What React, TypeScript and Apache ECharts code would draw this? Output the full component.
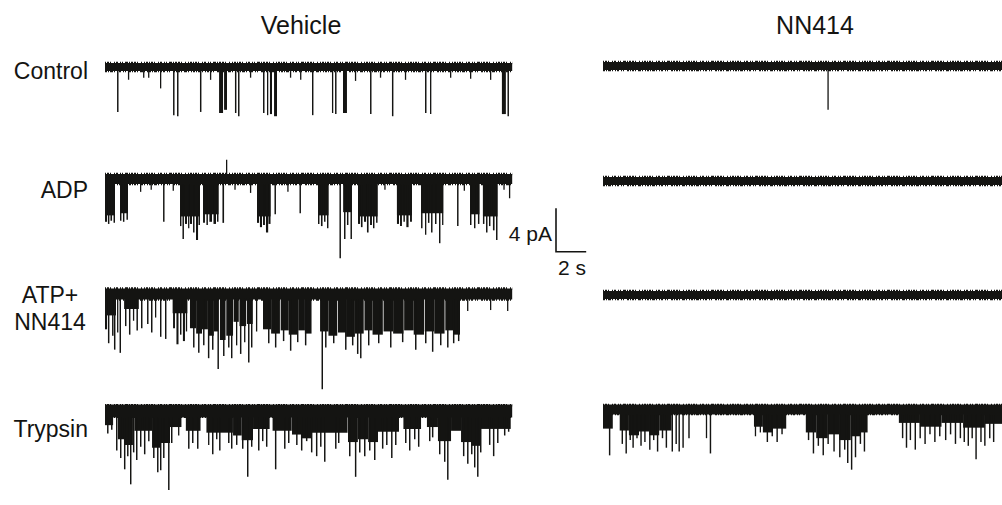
import React, { useEffect, useRef } from 'react';
import * as echarts from 'echarts';

// ---------------- DATA ----------------
const columnTitles = ['Vehicle', 'NN414'];
const rowLabels = ['Control', 'ADP', 'ATP+\nNN414', 'Trypsin'];
const traceDuration = 27.7; // seconds shown per trace
const scaleBarCurrent = 4; // pA
const scaleBarTime = 2; // s
const scaleLabels = ['4 pA', '2 s'];

// Channel openings: [start (s), end (s), amplitude (pA, downward)]
const vehicleControl: number[][] = [
  [0.82, 0.92, 4.2], [1.56, 1.63, 1.2], [2.59, 2.66, 1.0], [2.93, 3.0, 1.0], [3.74, 3.82, 2.0],
  [4.63, 4.73, 4.5], [4.9, 5.0, 4.6], [6.46, 6.56, 4.2], [7.14, 7.2, 1.2], [7.76, 8.03, 4.3],
  [8.1, 8.3, 4.0], [8.84, 8.94, 4.3], [9.05, 9.15, 4.6], [9.86, 9.93, 1.0], [10.75, 10.85, 4.3],
  [11.02, 11.1, 4.5], [11.22, 11.36, 4.4], [11.5, 11.7, 4.6], [12.58, 12.65, 1.0], [13.27, 13.33, 1.2],
  [14.08, 14.18, 4.5], [15.44, 15.52, 4.3], [15.65, 15.75, 4.4], [16.19, 16.46, 4.3], [17.0, 17.07, 1.3],
  [18.03, 18.13, 4.4], [18.7, 18.78, 1.0], [19.52, 19.62, 4.6], [20.4, 20.48, 1.2], [21.77, 21.87, 4.3],
  [22.11, 22.2, 4.4], [23.47, 23.54, 1.0], [24.83, 24.9, 1.1], [26.19, 26.26, 1.2], [27.0, 27.27, 4.4],
  [27.38, 27.48, 4.6],
];

const vehicleADP: number[][] = [
  // dense bursts
  [0.0, 0.68, 3.4], [1.02, 1.56, 3.2], [5.1, 6.46, 3.5], [6.67, 7.72, 3.3], [10.34, 11.26, 3.5],
  [14.49, 15.2, 3.4], [16.2, 16.8, 3.1], [17.21, 18.54, 3.5], [19.86, 20.88, 3.4], [21.5, 23.0, 3.2],
  [24.83, 25.47, 3.3], [25.71, 26.7, 3.5],
  // individual openings
  [0.0, 0.14, 4.0], [0.2, 0.3, 4.2], [0.37, 0.48, 3.9], [0.58, 0.68, 4.1], [1.02, 1.12, 3.9],
  [1.22, 1.32, 4.0], [1.46, 1.56, 3.8], [2.38, 2.45, 1.2], [3.95, 4.05, 4.0], [5.1, 5.2, 4.4],
  [5.27, 5.37, 5.6], [5.44, 5.58, 4.2], [5.65, 5.72, 4.6], [5.78, 5.92, 4.2], [5.99, 6.09, 5.0],
  [6.19, 6.33, 5.7], [6.36, 6.46, 4.3], [6.67, 6.8, 4.1], [6.9, 7.0, 4.3], [7.1, 7.28, 4.0],
  [7.38, 7.55, 4.2], [7.62, 7.72, 4.0], [7.99, 8.1, 4.1], [8.23, 8.3, -1.8], [9.86, 9.93, 1.3],
  [10.34, 10.48, 4.1], [10.54, 10.68, 4.5], [10.75, 10.88, 4.3], [10.95, 11.1, 5.0], [11.12, 11.26, 4.2],
  [11.53, 11.63, 3.3], [13.23, 13.33, 3.2], [14.49, 14.59, 4.2], [14.69, 14.8, 4.4], [14.9, 15.0, 4.0],
  [15.1, 15.2, 4.6], [15.95, 16.05, 7.4], [16.26, 16.36, 5.6], [16.46, 16.56, 4.3], [16.7, 16.8, 5.6],
  [17.21, 17.35, 4.2], [17.41, 17.52, 4.5], [17.62, 17.76, 4.0], [17.82, 17.93, 5.0], [18.03, 18.16, 4.3],
  [18.23, 18.33, 4.6], [18.44, 18.54, 4.1], [19.86, 20.0, 4.2], [20.07, 20.2, 4.4], [20.3, 20.4, 4.0],
  [20.5, 20.65, 4.5], [20.75, 20.88, 4.0], [21.5, 21.6, 4.6], [21.77, 21.84, 5.2], [21.97, 22.07, 4.1],
  [22.18, 22.28, 5.0], [22.45, 22.55, 4.2], [22.72, 22.82, 6.0], [22.93, 23.0, 4.3], [23.95, 24.05, 4.4],
  [24.83, 24.93, 4.3], [25.1, 25.2, 4.6], [25.37, 25.47, 4.2], [25.71, 25.81, 4.2], [25.92, 26.02, 5.0],
  [26.12, 26.22, 4.4], [26.39, 26.5, 4.8], [26.6, 26.7, 5.7], [27.48, 27.55, 1.8],
  [3.1, 3.16, 1.0], [4.6, 4.66, 1.1], [8.8, 8.86, 1.0], [12.4, 12.46, 1.2], [19.0, 19.06, 1.0],
  [24.4, 24.46, 1.1], [27.1, 27.16, 1.0],
];

const vehicleATP: number[][] = [
  // dense bursts
  [5.78, 6.2, 3.2], [6.2, 6.6, 3.7], [6.6, 7.0, 3.3], [7.05, 7.4, 3.9], [7.4, 7.69, 3.5],
  [7.82, 8.2, 4.3], [8.25, 8.71, 3.9], [8.75, 9.1, 2.6], [9.15, 9.6, 3.0], [9.65, 10.05, 2.8],
  [10.75, 11.3, 3.3], [11.3, 11.9, 3.7], [11.95, 12.5, 3.4], [12.5, 13.1, 3.8], [13.15, 13.6, 3.4],
  [13.6, 14.05, 3.7], [14.63, 15.2, 3.5], [15.2, 15.8, 3.9], [15.85, 16.4, 3.6], [16.4, 17.0, 4.0],
  [17.0, 17.6, 3.7], [17.65, 18.2, 3.4], [18.2, 18.9, 3.8], [18.95, 19.6, 3.5], [19.6, 20.3, 3.7],
  [20.35, 21.0, 3.4], [21.0, 21.7, 3.8], [21.75, 22.4, 3.5], [22.4, 23.1, 3.7], [23.15, 23.7, 3.4],
  [23.7, 24.15, 3.8], [0.0, 0.75, 2.0], [1.3, 2.3, 1.4], [4.6, 5.6, 1.8],
  // individual openings
  [0.0, 0.14, 3.3], [0.2, 0.3, 4.6], [0.48, 0.58, 3.9], [0.61, 0.71, 5.2], [0.82, 0.88, 3.6],
  [0.99, 1.09, 5.5], [1.36, 1.46, 3.0], [1.63, 1.73, 3.8], [1.9, 1.97, 2.5], [2.14, 2.24, 3.4],
  [2.45, 2.55, 3.2], [2.86, 2.96, 2.8], [3.13, 3.23, 3.6], [3.4, 3.47, 2.2], [3.74, 3.84, 4.0],
  [4.08, 4.18, 4.2], [4.63, 4.76, 3.2], [4.86, 5.0, 4.7], [5.1, 5.2, 3.8], [5.3, 5.44, 4.4],
  [5.5, 5.58, 3.5], [5.99, 6.09, 5.0], [6.33, 6.43, 5.5], [6.67, 6.77, 4.8], [7.0, 7.1, 6.0],
  [7.28, 7.38, 5.2], [7.65, 7.75, 7.0], [8.03, 8.13, 5.8], [8.37, 8.47, 5.0], [8.57, 8.67, 6.0],
  [8.91, 9.0, 4.8], [9.18, 9.28, 5.6], [9.46, 9.55, 4.5], [9.73, 9.83, 6.4], [9.93, 10.03, 5.0],
  [10.27, 10.34, 3.5], [11.09, 11.19, 4.6], [11.56, 11.66, 5.0], [12.1, 12.2, 4.4], [12.58, 12.68, 5.3],
  [13.06, 13.16, 4.5], [13.6, 13.7, 4.8], [14.73, 14.83, 8.9], [14.97, 15.07, 5.0], [15.51, 15.61, 4.6],
  [16.33, 16.43, 5.2], [16.8, 16.9, 4.8], [17.14, 17.24, 5.6], [17.35, 17.45, 6.0], [17.89, 17.99, 4.8],
  [18.57, 18.67, 4.6], [19.39, 19.49, 5.0], [20.2, 20.3, 4.5], [21.09, 21.19, 5.2], [21.77, 21.87, 4.6],
  [22.24, 22.34, 5.4], [22.79, 22.89, 4.8], [23.27, 23.37, 5.0], [23.67, 23.77, 4.6], [24.01, 24.11, 4.4],
  [24.63, 24.7, 1.6], [26.19, 26.26, 1.5], [27.35, 27.42, 1.6],
];

const vehicleTrypsin: number[][] = [
  // dense bursts
  [0.0, 0.55, 1.5], [0.88, 1.3, 3.0], [1.3, 1.9, 3.6], [3.2, 3.8, 3.9], [3.8, 4.42, 3.4],
  [8.71, 9.3, 2.6], [9.3, 10.07, 3.1], [12.72, 13.4, 2.5], [13.4, 14.08, 2.9], [16.53, 17.2, 3.3],
  [17.2, 17.9, 3.0], [17.9, 18.57, 3.3], [22.65, 23.54, 3.2], [24.22, 24.9, 3.3], [24.9, 25.58, 3.7],
  [2.0, 3.2, 2.1], [4.42, 5.2, 1.7], [5.5, 6.5, 2.1], [6.9, 8.7, 2.3], [10.07, 11.2, 1.9],
  [11.4, 12.7, 2.1], [14.08, 16.5, 2.3], [18.57, 20.0, 2.2], [20.3, 21.5, 1.9], [21.9, 22.65, 1.7],
  [23.54, 24.22, 2.1], [25.58, 27.6, 1.9],
  // individual openings
  [0.14, 0.24, 2.4], [0.41, 0.51, 2.0], [0.75, 0.85, 4.2], [1.02, 1.12, 5.0], [1.29, 1.39, 6.2],
  [1.5, 1.6, 4.8], [1.7, 1.8, 7.8], [1.9, 2.0, 4.4], [2.11, 2.21, 5.2], [2.38, 2.48, 3.8],
  [2.65, 2.75, 4.6], [2.93, 3.03, 3.2], [3.27, 3.37, 5.0], [3.54, 3.64, 6.5], [3.74, 3.84, 6.3],
  [3.95, 4.05, 5.0], [4.29, 4.39, 8.4], [4.49, 4.59, 3.4], [4.97, 5.05, 2.6], [5.65, 5.75, 4.0],
  [5.92, 6.02, 3.4], [6.26, 6.36, 4.0], [7.01, 7.1, 3.6], [7.28, 7.38, 4.6], [7.55, 7.65, 3.0],
  [7.76, 7.86, 4.2], [8.37, 8.47, 3.4], [8.57, 8.67, 4.0], [8.91, 9.01, 3.6], [9.32, 9.42, 4.0],
  [9.66, 9.76, 7.0], [9.93, 10.03, 3.8], [10.41, 10.51, 4.2], [10.68, 10.78, 3.2], [10.95, 11.05, 3.8],
  [11.56, 11.66, 6.2], [12.18, 12.28, 4.0], [12.45, 12.55, 3.4], [13.0, 13.1, 3.6], [13.33, 13.43, 4.2],
  [13.67, 13.77, 3.2], [14.01, 14.11, 4.4], [14.35, 14.45, 4.8], [14.63, 14.73, 3.8], [14.9, 15.0, 5.4],
  [15.65, 15.75, 4.0], [15.85, 15.95, 3.4], [16.6, 16.7, 4.8], [17.0, 17.1, 7.0], [17.28, 17.38, 4.4],
  [17.62, 17.72, 4.8], [17.96, 18.06, 4.2], [18.3, 18.4, 5.2], [18.84, 18.94, 4.0], [19.12, 19.22, 3.6],
  [19.46, 19.56, 5.0], [19.73, 19.83, 3.6], [20.41, 20.51, 3.4], [20.68, 20.78, 4.2], [21.02, 21.12, 3.0],
  [21.29, 21.39, 3.8], [22.04, 22.14, 3.2], [22.24, 22.34, 2.8], [22.72, 22.82, 4.6], [23.06, 23.16, 5.4],
  [23.27, 23.37, 7.3], [24.35, 24.45, 4.8], [24.63, 24.73, 5.6], [24.9, 25.0, 4.6], [25.1, 25.2, 6.0],
  [25.31, 25.41, 7.0], [25.51, 25.61, 4.4], [26.12, 26.22, 3.6], [26.39, 26.49, 4.8], [26.67, 26.77, 3.4],
  [27.14, 27.24, 2.6], [27.41, 27.51, 2.2],
];

const nn414Control: number[][] = [[15.58, 15.66, 4.1]];
const nn414ADP: number[][] = [];
const nn414ATP: number[][] = [];
const nn414Trypsin: number[][] = [
  // dense bursts
  [0.0, 0.68, 2.0], [1.16, 1.8, 2.2], [1.8, 2.5, 2.7], [2.5, 3.2, 2.3], [3.2, 3.9, 2.7],
  [3.9, 4.76, 2.2], [10.48, 11.1, 1.8], [11.1, 11.8, 2.4], [11.8, 12.72, 2.0], [14.08, 14.8, 2.4],
  [14.8, 15.6, 3.0], [15.6, 16.4, 2.6], [16.4, 17.2, 3.2], [17.2, 17.9, 2.8], [17.9, 18.37, 2.4],
  [20.54, 22.0, 1.4], [22.0, 23.5, 1.8], [23.5, 25.0, 1.4], [25.0, 26.5, 1.9], [26.5, 27.7, 1.5],
  // individual openings
  [0.41, 0.51, 4.8], [1.29, 1.39, 3.6], [1.56, 1.66, 4.6], [1.84, 1.94, 3.2], [2.04, 2.14, 4.0],
  [2.31, 2.41, 3.0], [2.59, 2.69, 3.8], [2.86, 2.96, 3.4], [3.2, 3.3, 4.2], [3.47, 3.57, 3.2],
  [3.74, 3.84, 4.4], [4.08, 4.18, 3.0], [4.35, 4.45, 4.0], [4.76, 4.86, 4.4], [5.03, 5.13, 3.6],
  [5.24, 5.34, 4.4], [5.51, 5.61, 4.0], [5.92, 6.02, 3.0], [7.14, 7.22, 3.0], [7.41, 7.51, 4.6],
  [10.54, 10.62, 2.8], [10.88, 10.96, 2.4], [11.36, 11.46, 3.4], [11.7, 11.8, 2.8], [12.04, 12.14, 3.4],
  [12.38, 12.48, 2.6], [14.22, 14.32, 3.2], [14.56, 14.66, 4.6], [14.9, 15.0, 3.8], [15.24, 15.34, 4.8],
  [15.58, 15.68, 3.6], [15.99, 16.09, 4.4], [16.39, 16.49, 5.0], [16.73, 16.83, 4.2], [16.94, 17.04, 5.6],
  [17.21, 17.31, 6.3], [17.48, 17.58, 5.0], [17.82, 17.92, 3.6], [18.1, 18.2, 4.4], [20.75, 20.85, 3.0],
  [21.02, 21.12, 4.0], [21.29, 21.39, 3.2], [21.63, 21.73, 4.2], [21.97, 22.07, 3.0], [22.31, 22.41, 3.6],
  [22.65, 22.75, 2.6], [22.99, 23.09, 3.4], [23.33, 23.43, 2.8], [23.74, 23.84, 3.2], [24.08, 24.18, 2.6],
  [24.42, 24.52, 3.6], [24.76, 24.86, 3.0], [25.03, 25.13, 3.4], [25.31, 25.41, 3.8], [25.58, 25.68, 3.0],
  [25.85, 25.95, 5.2], [26.19, 26.29, 3.4], [26.46, 26.56, 3.8], [26.8, 26.9, 3.0], [27.07, 27.17, 3.4],
];

const traces: number[][][][] = [
  [vehicleControl, vehicleADP, vehicleATP, vehicleTrypsin],
  [nn414Control, nn414ADP, nn414ATP, nn414Trypsin],
];

// ---------------- LAYOUT / STYLE ----------------
const PX_PER_S = 14.7;
const PX_PER_PA = 10.7;
const Y_MIN = -10;
const Y_MAX = 3;
const colLeft = [105, 603];
const rowBaseline = [
  [67, 179, 294, 415],
  [66, 181, 295, 413],
];
const bandWidth = [
  [8, 10, 11, 13],
  [8, 8, 8, 10],
];
const INK = '#141412';
const FONT = '"Liberation Sans", Arial, Helvetica, sans-serif';
// irregular dash patterns that give the band edges a ragged, noisy look
const FRINGE_TOP = [1, 1, 2, 1, 1, 3, 1, 1, 2, 2, 1, 1, 1, 2, 3, 1, 1, 1, 2, 1, 2, 1, 1, 3, 1, 2, 1, 1, 2, 1];
const FRINGE_BOTTOM = [2, 1, 1, 1, 3, 1, 1, 2, 1, 1, 2, 2, 1, 1, 1, 3, 2, 1, 1, 1, 2, 1, 1, 2, 3, 1, 1, 2, 1, 1];

function buildOption() {
  const grid: any[] = [];
  const xAxis: any[] = [];
  const yAxis: any[] = [];
  const series: any[] = [];
  let idx = 0;
  for (let c = 0; c < 2; c++) {
    for (let r = 0; r < 4; r++) {
      grid.push({
        left: colLeft[c],
        top: rowBaseline[c][r] - Y_MAX * PX_PER_PA,
        width: traceDuration * PX_PER_S,
        height: (Y_MAX - Y_MIN) * PX_PER_PA,
      });
      xAxis.push({ type: 'value', gridIndex: idx, min: 0, max: traceDuration, show: false });
      yAxis.push({ type: 'value', gridIndex: idx, min: Y_MIN, max: Y_MAX, show: false });
      const half = bandWidth[c][r] / 2 / PX_PER_PA;
      // baseline noise band
      series.push({
        type: 'line', xAxisIndex: idx, yAxisIndex: idx, silent: true, symbol: 'none',
        data: [[0, 0], [traceDuration, 0]],
        lineStyle: { color: INK, width: bandWidth[c][r], cap: 'butt' },
      });
      // ragged noise fringes on the band edges
      series.push({
        type: 'line', xAxisIndex: idx, yAxisIndex: idx, silent: true, symbol: 'none',
        data: [[0, half], [traceDuration, half]],
        lineStyle: { color: INK, width: 2.5, cap: 'butt', type: FRINGE_TOP },
      });
      series.push({
        type: 'line', xAxisIndex: idx, yAxisIndex: idx, silent: true, symbol: 'none',
        data: [[0, -half], [traceDuration, -half]],
        lineStyle: { color: INK, width: 2.5, cap: 'butt', type: FRINGE_BOTTOM },
      });
      // channel openings
      series.push({
        type: 'custom', xAxisIndex: idx, yAxisIndex: idx, silent: true,
        data: traces[c][r],
        encode: { x: [0, 1], y: 2 },
        renderItem: (_p: any, api: any) => {
          const p0 = api.coord([api.value(0), 0]);
          const p1 = api.coord([api.value(1), -api.value(2)]);
          const w = Math.max(p1[0] - p0[0], 1.3);
          return {
            type: 'rect',
            shape: { x: p0[0], y: Math.min(p0[1], p1[1]), width: w, height: Math.abs(p1[1] - p0[1]) },
            style: { fill: INK },
          };
        },
      });
      idx++;
    }
  }

  // scale bar grid: 2 s × 4 pA at the traces' scale
  grid.push({ left: 556, top: 209, width: scaleBarTime * PX_PER_S, height: scaleBarCurrent * PX_PER_PA });
  xAxis.push({ type: 'value', gridIndex: idx, min: 0, max: scaleBarTime, show: false });
  yAxis.push({ type: 'value', gridIndex: idx, min: 0, max: scaleBarCurrent, show: false });
  series.push({
    type: 'line', xAxisIndex: idx, yAxisIndex: idx, silent: true, symbol: 'none', clip: false,
    data: [[0, scaleBarCurrent], [0, 0], [scaleBarTime, 0]],
    lineStyle: { color: INK, width: 1.6, cap: 'square', join: 'miter' },
  });

  const graphic: any[] = [
    { type: 'text', x: 301, y: 25, style: { text: columnTitles[0], fill: INK, font: `25px ${FONT}`, align: 'center', verticalAlign: 'middle' } },
    { type: 'text', x: 815, y: 25, style: { text: columnTitles[1], fill: INK, font: `25px ${FONT}`, align: 'center', verticalAlign: 'middle' } },
    { type: 'text', x: 88, y: 71, style: { text: rowLabels[0], fill: INK, font: `23px ${FONT}`, align: 'right', verticalAlign: 'middle' } },
    { type: 'text', x: 88, y: 190, style: { text: rowLabels[1], fill: INK, font: `23px ${FONT}`, align: 'right', verticalAlign: 'middle' } },
    { type: 'text', x: 50, y: 308, style: { text: rowLabels[2], fill: INK, font: `23px ${FONT}`, lineHeight: 27, align: 'center', verticalAlign: 'middle' } },
    { type: 'text', x: 88, y: 429, style: { text: rowLabels[3], fill: INK, font: `23px ${FONT}`, align: 'right', verticalAlign: 'middle' } },
    { type: 'text', x: 552, y: 233, style: { text: scaleLabels[0], fill: INK, font: `21px ${FONT}`, align: 'right', verticalAlign: 'middle' } },
    { type: 'text', x: 572, y: 267, style: { text: scaleLabels[1], fill: INK, font: `21px ${FONT}`, align: 'center', verticalAlign: 'middle' } },
  ];

  return { animation: false, backgroundColor: '#ffffff', grid, xAxis, yAxis, series, graphic };
}

export default function App() {
  const ref = useRef<HTMLDivElement>(null);
  useEffect(() => {
    if (!ref.current) return;
    const chart = echarts.init(ref.current, undefined, { renderer: 'svg' });
    chart.setOption(buildOption() as any);
    return () => chart.dispose();
  }, []);
  return (
    <div
      ref={ref}
      style={{ position: 'fixed', left: 0, top: 0, width: 1002, height: 505, background: '#fff' }}
    />
  );
}
